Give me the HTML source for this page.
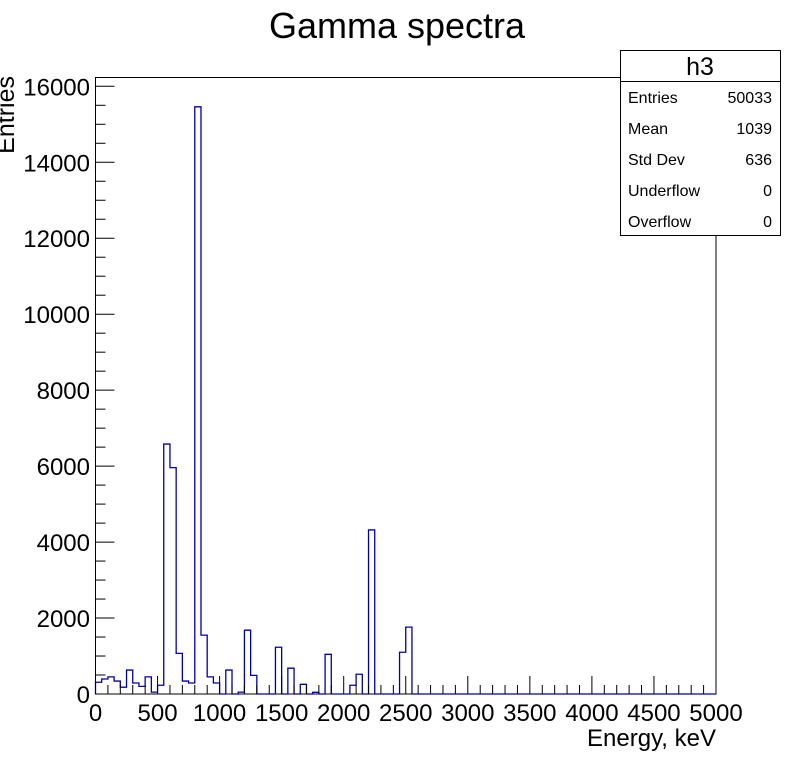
<!DOCTYPE html>
<html><head><meta charset="utf-8"><style>
html,body{margin:0;padding:0;background:#fff;}
svg{display:block;font-family:"Liberation Sans",sans-serif;}
</style></head><body>
<svg id="chart" width="796" height="772" viewBox="0 0 796 772">
<text x="397" y="38" font-size="36" text-anchor="middle">Gamma spectra</text>
<rect x="95.5" y="77.5" width="620.5" height="616.5" fill="none" stroke="#000" stroke-width="1"/>
<g id="hist"></g>
<g id="axes"></g>
<text x="716" y="746" font-size="24" text-anchor="end">Energy, keV</text>
<text transform="translate(14,76) rotate(-90)" font-size="25" text-anchor="end">Entries</text>
<g>
<rect x="620.5" y="50.5" width="160" height="185" fill="#fff" stroke="#000"/>
<line x1="620.5" y1="81.5" x2="780.5" y2="81.5" stroke="#000"/>
<text x="700" y="75" font-size="25" text-anchor="middle">h3</text>
<g font-size="16">
<text x="628" y="103">Entries</text><text x="772" y="103" text-anchor="end">50033</text>
<text x="628" y="134">Mean</text><text x="772" y="134" text-anchor="end">1039</text>
<text x="628" y="165">Std Dev</text><text x="772" y="165" text-anchor="end">636</text>
<text x="628" y="196">Underflow</text><text x="772" y="196" text-anchor="end">0</text>
<text x="628" y="227">Overflow</text><text x="772" y="227" text-anchor="end">0</text>
</g></g>
</svg>
<script>
const counts = [310,395,450,340,180,630,290,200,450,50,230,6580,5960,1070,340,290,15460,1550,450,290,0,630,0,50,1680,490,0,0,0,1230,0,680,0,255,0,45,0,1045,0,0,0,230,520,0,4320,0,0,0,0,1100,1760];
const xTicks = [0,500,1000,1500,2000,2500,3000,3500,4000,4500,5000];
const yTicks = [0,2000,4000,6000,8000,10000,12000,14000,16000];
const binWidth = 50, nBins = 100;
const X0=95.5, X1=716, Y0=694, Y16=86.3;
const xs = v => X0 + (X1-X0)*v/5000;
const ys = v => Y0 - (Y0-Y16)*v/16000;
const NS='http://www.w3.org/2000/svg';
const hist=document.getElementById('hist');
let d='M'+xs(0)+','+Y0;
for(let i=0;i<nBins;i++){
  const c = i<counts.length?counts[i]:0;
  d+=' L'+xs(i*binWidth)+','+ys(c)+' L'+xs((i+1)*binWidth)+','+ys(c);
}
d+=' L'+xs(5000)+','+Y0;
const p=document.createElementNS(NS,'path');
p.setAttribute('d',d);p.setAttribute('fill','none');p.setAttribute('stroke','#0000aa');p.setAttribute('stroke-width','1.3');


hist.appendChild(p);
const axes=document.getElementById('axes');
function line(x1,y1,x2,y2){const l=document.createElementNS(NS,'line');l.setAttribute('x1',x1);l.setAttribute('y1',y1);l.setAttribute('x2',x2);l.setAttribute('y2',y2);l.setAttribute('stroke','#000');axes.appendChild(l);return l;}
for(let v=0;v<=5000;v+=100){const x=xs(v);const t=line(x,Y0,x,Y0-(v%500===0?18:9));

}
for(let v=0;v<=16000;v+=500){const y=ys(v);const t=line(X0,y,X0+(v%2000===0?19:10),y);

}
xTicks.forEach(v=>{const t=document.createElementNS(NS,'text');t.setAttribute('x',xs(v));t.setAttribute('y',721);t.setAttribute('font-size','24');t.setAttribute('text-anchor','middle');t.textContent=v;


axes.appendChild(t);});
yTicks.forEach(v=>{const t=document.createElementNS(NS,'text');t.setAttribute('x',90);t.setAttribute('y',ys(v)+9);t.setAttribute('font-size','24');t.setAttribute('text-anchor','end');t.textContent=v;


axes.appendChild(t);});
</script>
</body></html>
